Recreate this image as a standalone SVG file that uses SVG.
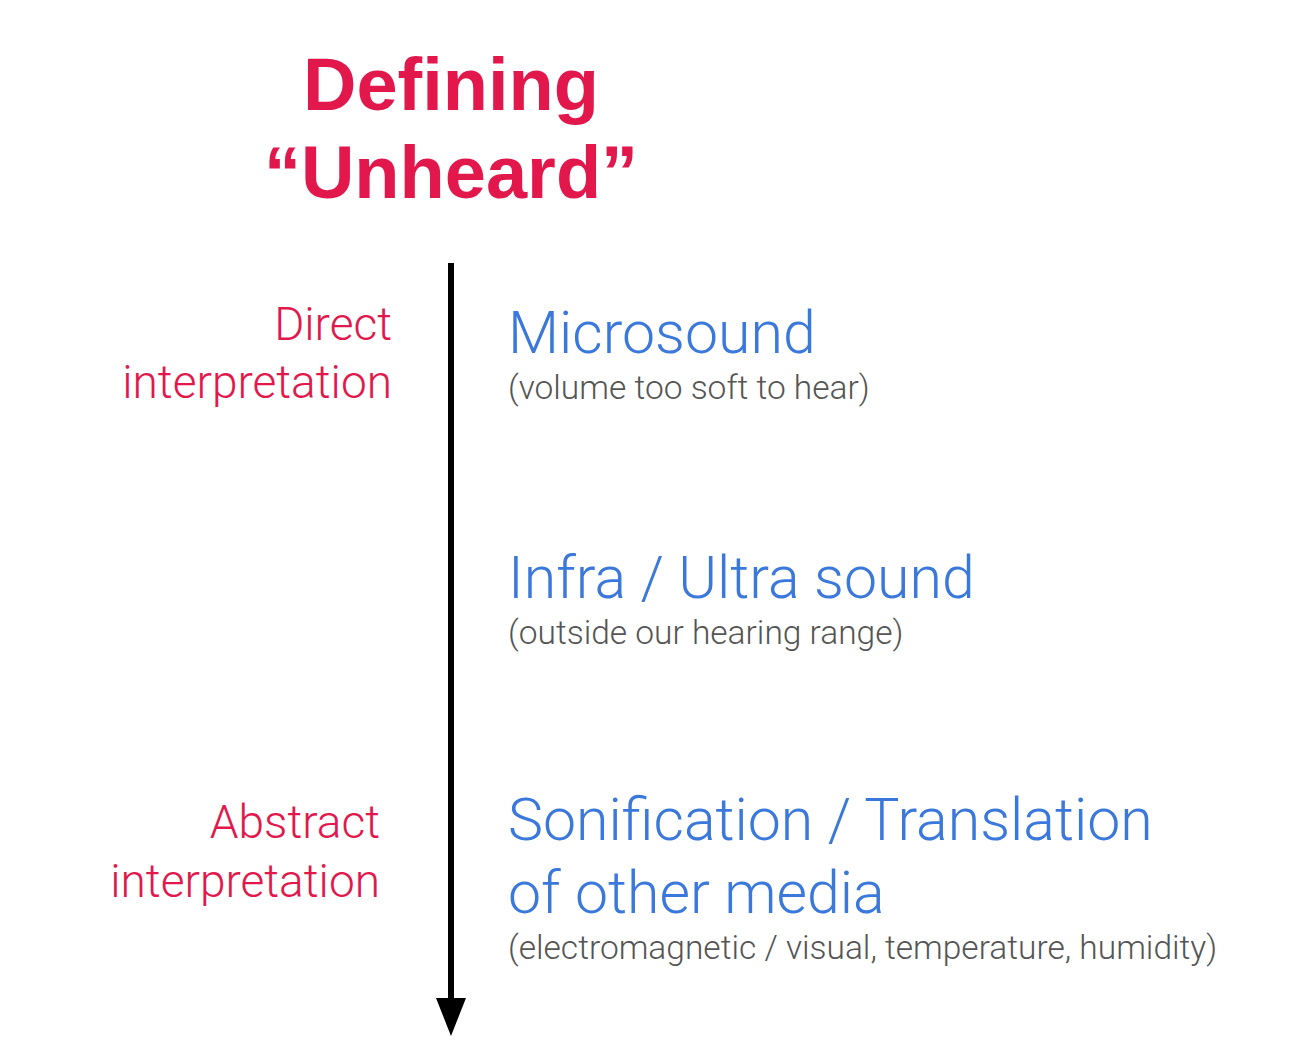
<svg xmlns="http://www.w3.org/2000/svg" width="1298" height="1054" viewBox="0 0 1298 1054">
<style>
.title{font-family:"Liberation Sans",Arial,sans-serif;font-weight:700;font-size:74px;fill:#E2184D;text-anchor:middle}
.side{font-family:Roboto,"Liberation Sans",sans-serif;font-weight:300;font-size:46px;fill:#E2184D;text-anchor:end}
.head{font-family:Roboto,"Liberation Sans",sans-serif;font-weight:300;font-size:59px;fill:#3B78DC}
.sub{font-family:Roboto,"Liberation Sans",sans-serif;font-weight:300;font-size:33.5px;fill:#555555}
</style>
<defs>
<marker id="ah" viewBox="0 0 38 30" refX="0" refY="15" markerWidth="38" markerHeight="30" markerUnits="userSpaceOnUse" orient="auto">
<path d="M0,0 L38,15 L0,30 Z" fill="#000"/>
</marker>
</defs>
<rect width="1298" height="1054" fill="#fff"/>
<g id="title">
<text class="title" x="451" y="110">Defining</text>
<text class="title" x="451" y="198">“Unheard”</text>
</g>
<g id="connectors">
<line x1="451" y1="263" x2="451" y2="998" stroke="#000" stroke-width="6" marker-end="url(#ah)"/>
</g>
<g id="direct">
<text class="side" x="392" y="340">Direct</text>
<text class="side" x="392" y="398">interpretation</text>
</g>
<g id="abstract">
<text class="side" x="380" y="838">Abstract</text>
<text class="side" x="380" y="897">interpretation</text>
</g>
<g id="microsound">
<text class="head" x="508" y="353">Microsound</text>
<text class="sub" x="508" y="399">(volume too soft to hear)</text>
</g>
<g id="infra">
<text class="head" x="508" y="598">Infra / Ultra sound</text>
<text class="sub" x="508" y="644">(outside our hearing range)</text>
</g>
<g id="sonification">
<text class="head" x="508" y="840">Sonification / Translation</text>
<text class="head" x="508" y="913">of other media</text>
<text class="sub" x="508" y="959">(electromagnetic / visual, temperature, humidity)</text>
</g>
</svg>
